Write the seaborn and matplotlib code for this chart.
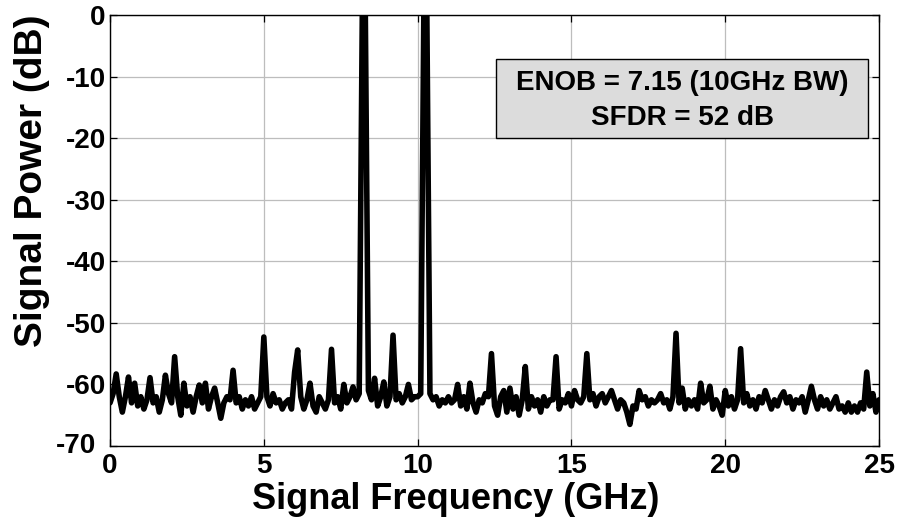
import numpy as np
import pandas as pd
import matplotlib
matplotlib.use("Agg")
import matplotlib.pyplot as plt
import matplotlib.transforms as mtransforms
import seaborn as sns
from matplotlib.patches import Rectangle

# Spectrum, one value per 0.1 GHz (0.0 ... 25.0 GHz)
freq_step_ghz = 0.1
power_db = [
    -63.0, -61.5, -58.3, -62.0, -64.5, -62.0, -58.8, -63.0, -59.8, -63.5,   # 0
    -62.0, -64.0, -62.5, -58.9, -63.0, -62.0, -64.5, -62.5, -58.5, -61.5,   # 1
    -63.0, -55.5, -62.0, -65.0, -59.8, -63.5, -62.0, -64.5, -62.0, -60.1,   # 2
    -63.0, -59.8, -64.0, -62.0, -60.6, -63.0, -65.5, -63.0, -62.0, -62.5,   # 3
    -57.7, -63.0, -62.0, -64.0, -62.5, -63.5, -62.0, -64.0, -63.0, -62.0,   # 4
    -52.3, -62.0, -63.5, -61.5, -63.0, -62.5, -64.0, -63.0, -62.5, -64.0,   # 5
    -58.0, -54.4, -62.0, -64.0, -62.5, -59.8, -63.5, -64.5, -62.0, -63.0,   # 6
    -64.0, -62.5, -54.3, -63.0, -62.0, -64.0, -60.0, -63.0, -62.0, -60.4,   # 7
    -62.5, -61.5, 0.0, 0.0, -61.0, -62.5, -59.0, -63.5, -62.0, -59.6,       # 8
    -63.5, -62.0, -52.0, -62.5, -61.5, -63.0, -62.0, -60.0, -62.5, -62.0,   # 9
    -62.0, -61.5, 0.0, 0.0, -61.5, -62.5, -62.0, -63.5, -62.5, -63.0,       # 10
    -62.0, -63.0, -62.5, -60.0, -63.5, -62.0, -64.0, -59.8, -63.0, -64.5,   # 11
    -62.5, -63.0, -61.5, -62.0, -55.0, -63.5, -65.0, -62.0, -61.0, -64.5,   # 12
    -60.6, -64.0, -62.0, -65.0, -62.5, -57.1, -64.0, -62.0, -63.5, -62.5,   # 13
    -64.5, -62.0, -63.5, -62.5, -62.5, -55.5, -64.0, -62.5, -63.0, -61.5,   # 14
    -63.5, -61.0, -62.5, -63.0, -62.0, -55.0, -62.5, -61.5, -63.5, -62.0,   # 15
    -61.5, -63.0, -62.0, -61.0, -62.5, -64.0, -62.5, -63.0, -64.5, -66.5,   # 16
    -63.5, -64.0, -61.0, -62.5, -62.0, -63.5, -62.5, -63.0, -62.5, -61.5,   # 17
    -63.0, -62.5, -64.0, -62.0, -51.7, -63.0, -60.6, -64.0, -62.5, -63.5,   # 18
    -62.5, -64.0, -59.8, -63.0, -62.5, -60.3, -64.0, -62.5, -63.5, -65.0,   # 19
    -61.0, -63.5, -62.0, -64.0, -62.5, -54.2, -63.0, -61.5, -63.5, -62.5,   # 20
    -64.0, -62.0, -63.0, -61.0, -62.5, -64.0, -62.5, -63.5, -62.0, -61.2,   # 21
    -63.0, -62.0, -64.0, -62.5, -63.0, -62.0, -64.5, -62.5, -60.3, -62.5,   # 22
    -64.0, -62.0, -63.5, -62.5, -64.0, -63.0, -62.0, -64.0, -63.5, -64.5,   # 23
    -63.0, -64.5, -63.5, -64.5, -63.0, -64.0, -58.0, -63.5, -61.5, -64.5,   # 24
    -62.5,                                                                  # 25
]

x_ticks = [0, 5, 10, 15, 20, 25]
y_ticks = [0, -10, -20, -30, -40, -50, -60, -70]
annotation_lines = ["ENOB = 7.15 (10GHz BW)", "SFDR = 52 dB"]

df = pd.DataFrame({
    "freq": np.arange(len(power_db)) * freq_step_ghz,
    "power": power_db,
})

sns.set_theme(style="white")
plt.rcParams["font.family"] = ["Liberation Sans", "DejaVu Sans"]
plt.rcParams["font.weight"] = "bold"
plt.rcParams["text.color"] = "black"
plt.rcParams["axes.labelcolor"] = "black"
plt.rcParams["xtick.color"] = "black"
plt.rcParams["ytick.color"] = "black"

fig = plt.figure(figsize=(8.99, 5.19), dpi=100)
ax = fig.add_axes([0.1224, 0.1407, 0.8554, 0.8304])

sns.lineplot(data=df, x="freq", y="power", ax=ax, color="black",
             linewidth=4.0, sort=False, zorder=3)

ax.set_xlim(0, 25)
ax.set_ylim(-70, 0)
ax.set_xticks(x_ticks)
ax.set_yticks(y_ticks)
ax.set_xticklabels([str(t) for t in x_ticks], fontsize=20, fontweight="bold")
ax.set_yticklabels([str(t) for t in y_ticks], fontsize=20, fontweight="bold")

ax.grid(True, color="#bdbdbd", linewidth=0.9, zorder=0)
for s in ax.spines.values():
    s.set_color("black")
    s.set_linewidth(1.0)
    s.set_visible(True)
ax.tick_params(direction="in", length=5, width=0.9, color="black",
               labelcolor="black",
               top=True, right=True, bottom=True, left=True,
               labeltop=False, labelright=False, pad=3)
ax.tick_params(axis="x", pad=5)

# the bottom y label sits a little left so it clears the x "0"
low = ax.get_yticklabels()[-1]
low.set_transform(low.get_transform()
                  + mtransforms.ScaledTranslation(-10 / 100, 3 / 100, fig.dpi_scale_trans))

ax.set_xlabel("Signal Frequency (GHz)", fontsize=26, fontweight="bold", color="black")
ax.set_ylabel("Signal Power (dB)", fontsize=28, fontweight="bold", color="black")
ax.xaxis.set_label_coords(0.45, -0.083)
ax.yaxis.set_label_coords(-0.078, 0.615)

# annotation box
ax.add_patch(Rectangle((0.502, 0.715), 0.484, 0.183, transform=ax.transAxes,
                       facecolor="#dcdcdc", edgecolor="black", linewidth=1.0, zorder=4))
ax.text(0.744, 0.842, annotation_lines[0], transform=ax.transAxes, ha="center",
        va="center", fontsize=20, fontweight="bold", color="black", zorder=5)
ax.text(0.744, 0.761, annotation_lines[1], transform=ax.transAxes, ha="center",
        va="center", fontsize=20, fontweight="bold", color="black", zorder=5)

fig.savefig("out.png", dpi=100)
